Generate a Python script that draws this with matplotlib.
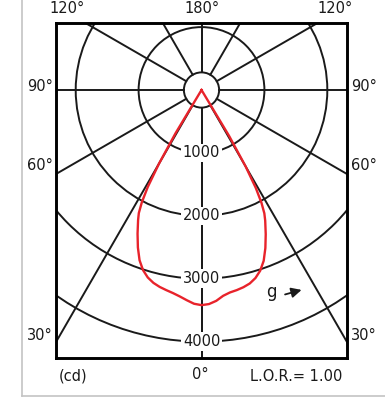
import matplotlib

matplotlib.use("Agg")
import matplotlib.pyplot as plt
import numpy as np
from matplotlib.lines import Line2D
from matplotlib.patches import Circle

# luminous intensity (cd) vs gamma angle, C180 plane (left) and C0 plane (right)
GAMMA = [0, 2, 4, 6, 8, 10, 12, 14, 16, 18, 20, 22, 24, 26, 27, 28, 29, 30, 31, 32]
CD_C180 = [3420, 3400, 3350, 3300, 3260, 3230, 3200, 3160, 3100, 3010,
           2880, 2700, 2500, 2300, 2195, 2020, 1760, 1350, 800, 0]
CD_C0 = [3420, 3405, 3360, 3290, 3250, 3230, 3205, 3170, 3110, 3020,
         2890, 2710, 2510, 2310, 2200, 2030, 1780, 1400, 850, 0]

RINGS = [1000, 2000, 3000, 4000]
HUB = 280
SPOKES = [0, 30, 60, 90, 120, 150, 180]
LOR = 1.00

INK = "#1a1a1a"
RED = "#e8232b"
FS = 10.5


def main():
    fig = plt.figure(figsize=(3.85, 4.01), dpi=100)
    ax = fig.add_axes([0.1455, 0.1065, 0.7558, 0.8369])
    ax.set_xlim(-2313, 2313)
    ax.set_ylim(-4265, 1070)
    ax.set_xticks([]); ax.set_yticks([])
    for s in ax.spines.values():
        s.set_linewidth(2.1)
        s.set_color("black")

    # polar grid: rings, hub and spokes every 30 degrees
    for r in RINGS + [HUB]:
        ax.add_patch(Circle((0, 0), r, fill=False, lw=1.4, ec=INK, zorder=1))
    for g in SPOKES:
        t = np.radians(g)
        for side in (-1, 1):
            ax.plot([side * HUB * np.sin(t), side * 8000 * np.sin(t)],
                    [-HUB * np.cos(t), -8000 * np.cos(t)], color=INK, lw=1.4, zorder=1)

    for r in RINGS:
        ax.text(0, -r, f"{r}", ha="center", va="center", fontsize=FS, color=INK, zorder=2,
                bbox=dict(boxstyle="square,pad=0.12", fc="white", ec="none"))

    # intensity curve
    g = np.radians(GAMMA)
    left = np.array(CD_C180)
    right = np.array(CD_C0)
    xs = np.concatenate([(-left * np.sin(g))[::-1], (right * np.sin(g))[1:]])
    ys = np.concatenate([(-left * np.cos(g))[::-1], (-right * np.cos(g))[1:]])
    ax.plot(xs, ys, color=RED, lw=1.7, zorder=3, solid_joinstyle="round")

    # angle labels around the frame
    kw = dict(transform=ax.transAxes, clip_on=False, fontsize=FS, color=INK, va="center")
    ax.text(0.037, 1.041, "120°", ha="center", **kw)
    ax.text(0.502, 1.041, "180°", ha="center", **kw)
    ax.text(0.959, 1.041, "120°", ha="center", **kw)
    for y, lab in [(0.810, "90°"), (0.574, "60°"), (0.068, "30°")]:
        ax.text(-0.055, y, lab, ha="center", **kw)
        ax.text(1.058, y, lab, ha="center", **kw)
    ax.text(0.495, -0.048, "0°", ha="center", **kw)
    ax.text(0.057, -0.053, "(cd)", ha="center", **kw)
    ax.text(0.825, -0.053, f"L.O.R.= {LOR:.2f}", ha="center", **kw)

    ax.text(0.741, 0.199, "g", ha="center", **{**kw, "fontsize": 12})
    ax.annotate("", xy=(0.853, 0.206), xytext=(0.778, 0.188), xycoords="axes fraction",
                arrowprops=dict(arrowstyle="-|>,head_length=0.6,head_width=0.3",
                                color=INK, lw=1.3))

    # thin grey border of the sheet
    fig.add_artist(Line2D([0.0571, 0.0571], [0.0125, 1.0], color="#c4c4c4", lw=1.2))
    fig.add_artist(Line2D([0.0571, 1.0], [0.0125, 0.0125], color="#c4c4c4", lw=1.2))

    fig.savefig("out.png", dpi=100, facecolor="white")
    plt.close(fig)


if __name__ == "__main__":
    main()
